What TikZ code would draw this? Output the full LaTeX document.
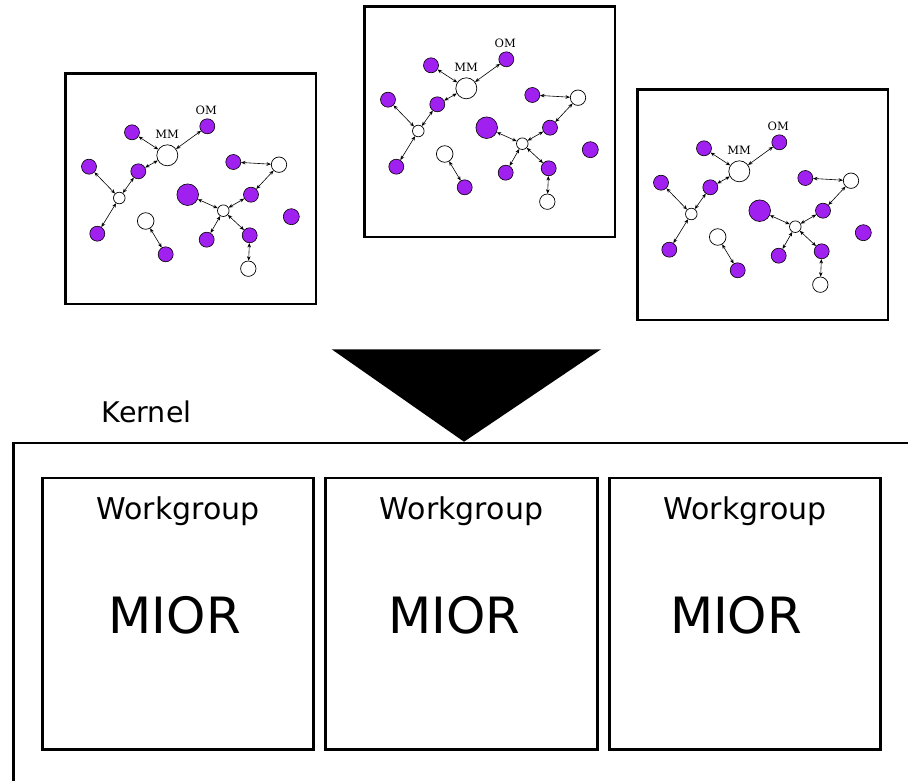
\documentclass[tikz,border=0pt]{standalone}
\usepackage{fontspec}
\newfontfamily\dejavu{DejaVu Sans}
\newfontfamily\dejavuserif{DejaVu Serif}
\usetikzlibrary{arrows.meta}
\definecolor{agentpurple}{HTML}{A020F0}

\tikzset{
  agent/.style={circle,draw=black,line width=0.6pt,fill=agentpurple,inner sep=0pt,minimum size=15pt},
  bigagent/.style={agent,minimum size=21.6pt},
  res/.style={circle,draw=black,line width=0.7pt,fill=white,inner sep=0pt,minimum size=15.4pt},
  hub/.style={res,minimum size=11.6pt},
  core/.style={res,minimum size=21pt},
  link/.style={<->,>={Stealth[length=4.4pt,width=3.6pt]},line width=0.6pt},
  tag/.style={font=\dejavuserif\fontsize{11.5}{13}\selectfont,anchor=base,inner sep=0pt},
  frame/.style={draw,line width=2.6pt,inner sep=0pt,outer sep=0pt,anchor=north west},
  wgtext/.style={font=\dejavu\fontsize{30}{36}\selectfont,anchor=base,inner sep=0pt},
  miortext/.style={font=\dejavu\fontsize{50}{60}\selectfont,anchor=base,inner sep=0pt},
  molgraph/.pic={
    \node[core] (-mm) at (102,82) {};
    \node[agent] (-om) at (142,53) {};
    \node[agent] (-a1) at (66.7,59) {};
    \node[agent] (-a2) at (23.7,93.4) {};
    \node[agent] (-a3) at (73,98) {};
    \node[hub] (-h1) at (54,124.7) {};
    \node[agent] (-a4) at (32,160.4) {};
    \node[res,minimum size=16.6pt] (-r1) at (80.4,147.7) {};
    \node[agent] (-a5) at (100.4,181) {};
    \node[bigagent] (-big) at (122.4,121.4) {};
    \node[hub] (-h2) at (158,137.4) {};
    \node[agent] (-a6) at (168,88.7) {};
    \node[res] (-r2) at (213.7,91.4) {};
    \node[agent] (-a7) at (185.7,121.4) {};
    \node[agent,minimum size=16pt] (-a8) at (226,143.4) {};
    \node[agent] (-a9) at (141.4,166.4) {};
    \node[agent] (-a10) at (184.4,162) {};
    \node[res] (-r3) at (183,195.4) {};
    \node[tag] (-mmtag) at (101.9,65.7) {MM};
    \node[tag] (-omtag) at (140.9,41.7) {OM};
    \draw[link] (-a1) -- (-mm);
    \draw[link] (-om) -- (-mm);
    \draw[link] (-mm) -- (-a3);
    \draw[link] (-a3) -- (-h1);
    \draw[link] (-a2) -- (-h1);
    \draw[link] (-h1) -- (-a4);
    \draw[link] (-r1) -- (-a5);
    \draw[link] (-big) -- (-h2);
    \draw[link] (-h2) -- (-a7);
    \draw[link] (-a7) -- (-r2);
    \draw[link] (-a6) -- (-r2);
    \draw[link] (-h2) -- (-a9);
    \draw[link] (-h2) -- (-a10);
    \draw[link] (-a10) -- (-r3);
  }
}

\begin{document}
\begin{tikzpicture}[x=1pt,y=-1pt]
\useasboundingbox (0,0) rectangle (908,781);
% snapshots
\node[frame,minimum width=250.7pt,minimum height=230.7pt] (snap1) at (65.3,73.3) {};
\node[frame,minimum width=250.7pt,minimum height=230.7pt] (snap2) at (364.3,6.3) {};
\node[frame,minimum width=250.7pt,minimum height=230.7pt] (snap3) at (637.3,89.3) {};
\pic (g1) at (snap1.north west) {molgraph};
\pic (g2) at (snap2.north west) {molgraph};
\pic (g3) at (snap3.north west) {molgraph};
% big arrow head
\fill[black] (331.7,349.3) -- (601,349.3) -- (464,441.7) -- cycle;
% kernel
\node[frame,minimum width=950pt,minimum height=400pt] (kernel) at (13.7,443) {};
\node[wgtext,font=\dejavu\fontsize{28.5}{34}\selectfont] (kerneltag) at (146.7,422.7) {Kernel};
% workgroups
\node[frame,minimum width=271.5pt,minimum height=271.7pt] (wg1) at (42.2,477.8) {};
\node[frame,minimum width=271.5pt,minimum height=271.7pt] (wg2) at (325.7,477.8) {};
\node[frame,minimum width=271.5pt,minimum height=271.7pt] (wg3) at (609.2,477.8) {};
\node[wgtext] (wg1tag) at (178,519.3) {Workgroup};
\node[wgtext] (wg2tag) at (461.5,519.3) {Workgroup};
\node[wgtext] (wg3tag) at (745,519.3) {Workgroup};
\node[miortext] (mior1) at (174.8,633.3) {MIOR};
\node[miortext] (mior2) at (454.5,633.3) {MIOR};
\node[miortext] (mior3) at (736,633.3) {MIOR};
\end{tikzpicture}
\end{document}
